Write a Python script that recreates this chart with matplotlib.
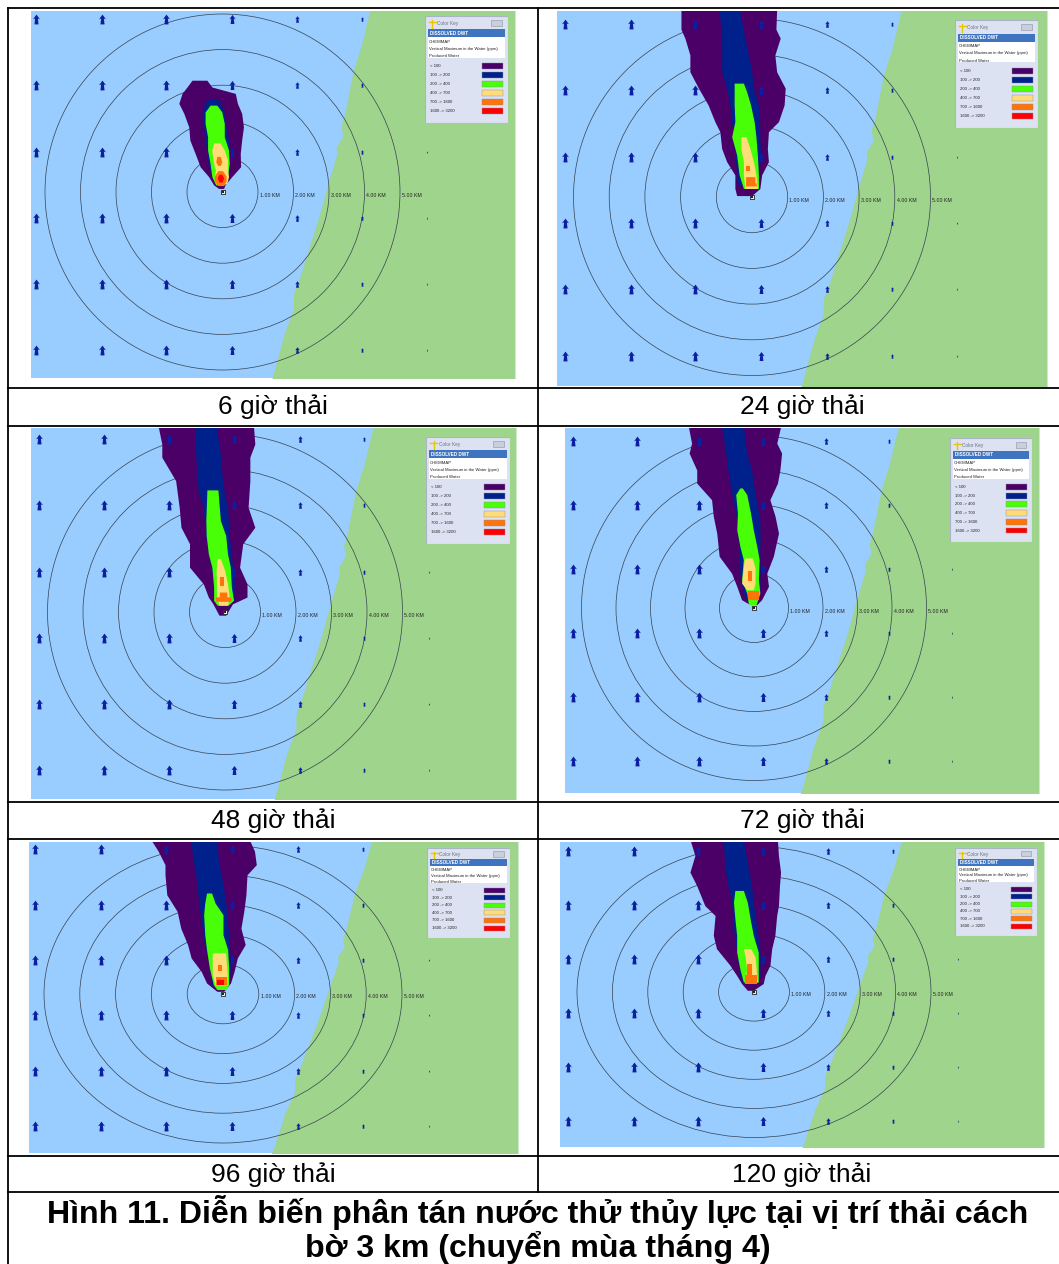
import matplotlib
matplotlib.use("Agg")
import matplotlib.pyplot as plt
from matplotlib.patches import Circle, Rectangle
from matplotlib.path import Path

plt.rcParams["font.family"] = ["Liberation Sans", "DejaVu Sans"]

W, H = 1059, 1264

# Colours of the concentration classes
class_labels = ["< 100", "100 -> 200", "200 -> 400", "400 -> 700", "700 -> 1600", "1600 -> 3200"]
class_colors = ["#4b0068", "#00208c", "#48ff08", "#ffdc78", "#ff7408", "#ff0000"]
key_lines = ["CHEMMAP", "Vertical Maximum in the Water (ppm)", "Produced Water"]

captions = ["6 giờ thải", "24 giờ thải", "48 giờ thải", "72 giờ thải", "96 giờ thải", "120 giờ thải"]
ring_km = [1, 2, 3, 4, 5]

# Coastline, km from the source (east, north)
coast_x = [4.25, 4.14, 3.92, 3.68, 3.44, 3.34, 3.39, 3.20, 3.22, 3.00, 2.71, 2.47, 2.18, 2.00, 2.00, 1.74, 1.40, 1.25]
coast_y = [5.45, 5.07, 4.16, 3.41, 2.19, 1.87, 1.58, 1.26, 1.07, 0.33, -0.70, -1.45, -2.38, -2.85, -3.27, -3.97, -5.22, -5.60]

# Current arrows, km from the source
arrow_cols = [-5.25, -3.40, -1.59, 0.26, 2.10, 3.92, 5.75]
arrow_rows = [4.85, 3.00, 1.13, -0.72, -2.58, -4.44]
arrow_size = [50, 50, 50, 42, 22, 10, 2]

# Plume rows: (north km, west edge km, east edge km), one list per class
purple_6 = [(3.14, -0.86, -0.44), (2.95, -1.00, -0.30), (2.77, -1.14, 0.36), (2.49, -1.23, 0.42), (2.21, -1.09, 0.54),
            (1.83, -0.95, 0.59), (1.46, -0.92, 0.54), (1.08, -0.77, 0.50), (0.71, -0.63, 0.51), (0.43, -0.39, 0.26),
            (0.20, -0.25, 0.07), (0.10, -0.11, 0.03)]
navy_6 = [(2.63, -0.39, -0.16), (2.49, -0.50, -0.05), (2.21, -0.58, 0.05), (1.83, -0.53, 0.10), (1.46, -0.49, 0.17),
          (1.08, -0.44, 0.20), (0.71, -0.39, 0.17), (0.43, -0.30, 0.14), (0.20, -0.20, 0.07)]
green_6 = [(2.44, -0.35, -0.16), (2.25, -0.49, -0.02), (1.93, -0.49, 0.05), (1.55, -0.42, 0.05), (1.18, -0.42, 0.17),
           (0.80, -0.35, 0.19), (0.43, -0.30, 0.14), (0.20, -0.19, 0.07)]
yellow_6 = [(1.38, -0.25, -0.07), (1.18, -0.30, 0.05), (0.90, -0.27, 0.14), (0.62, -0.20, 0.14), (0.43, -0.23, 0.17),
            (0.24, -0.20, 0.12)]
orange_6a = [(1.00, -0.16, -0.06), (0.85, -0.19, -0.02), (0.75, -0.14, -0.06)]
orange_6b = [(0.60, -0.13, 0.00), (0.45, -0.23, 0.10), (0.30, -0.23, 0.10), (0.18, -0.13, 0.02)]
red_6 = [(0.50, -0.10, -0.02), (0.40, -0.15, 0.03), (0.28, -0.10, -0.01)]

purple_24 = [(5.25, -1.99, 0.69), (4.70, -1.99, 0.67), (4.45, -1.88, 0.79), (3.98, -1.74, 0.64), (3.51, -1.74, 0.69),
             (3.05, -1.50, 0.93), (2.58, -1.23, 0.90), (2.11, -1.04, 0.74), (1.83, -0.90, 0.46), (1.36, -0.85, 0.43),
             (0.99, -0.71, 0.46), (0.62, -0.48, 0.27), (0.24, -0.48, 0.22), (0.04, -0.43, -0.01)]
navy_24 = [(5.25, -0.92, -0.34), (4.45, -0.85, -0.20), (3.98, -0.85, -0.10), (3.51, -0.85, -0.01), (3.05, -0.71, 0.04),
           (2.58, -0.62, 0.18), (2.11, -0.57, 0.21), (1.64, -0.52, 0.22), (1.18, -0.48, 0.24), (0.71, -0.43, 0.18),
           (0.34, -0.39, 0.18)]
green_24 = [(3.19, -0.50, -0.24), (2.95, -0.50, -0.15), (2.58, -0.50, -0.04), (2.11, -0.48, 0.06), (1.69, -0.57, 0.11),
            (1.18, -0.43, 0.15), (0.62, -0.36, 0.18), (0.24, -0.24, 0.18)]
yellow_24 = [(1.69, -0.31, -0.17), (1.36, -0.31, -0.06), (0.99, -0.24, 0.04), (0.62, -0.24, 0.11), (0.24, -0.20, 0.15)]
orange_24a = [(0.87, -0.18, -0.06), (0.73, -0.18, -0.06)]
orange_24b = [(0.57, -0.18, 0.08), (0.40, -0.18, 0.08), (0.39, -0.18, 0.12), (0.31, -0.18, 0.12)]

purple_48 = [(5.25, -1.89, 0.80), (4.72, -1.78, 0.84), (4.35, -1.78, 0.70), (3.69, -1.39, 0.70), (2.94, -1.29, 0.65),
             (2.38, -1.24, 0.84), (1.92, -1.00, 0.50), (1.26, -1.00, 0.41), (0.79, -0.61, 0.62), (0.42, -0.47, 0.62),
             (0.23, -0.34, 0.21), (-0.09, -0.17, 0.02)]
navy_48 = [(5.25, -0.83, -0.25), (4.44, -0.83, -0.13), (3.79, -0.78, -0.08), (3.41, -0.76, -0.03), (2.94, -0.61, 0.07),
           (2.20, -0.56, 0.12), (1.64, -0.47, 0.17), (0.89, -0.32, 0.26), (0.33, -0.32, 0.26)]
green_48 = [(3.43, -0.51, -0.20), (2.57, -0.54, -0.13), (2.15, -0.53, 0.02), (1.64, -0.47, 0.07), (1.26, -0.37, 0.15),
            (0.70, -0.32, 0.18), (0.33, -0.32, 0.24), (0.19, -0.22, 0.09)]
yellow_48 = [(1.50, -0.22, -0.13), (1.17, -0.25, -0.01), (0.79, -0.24, 0.07), (0.42, -0.24, 0.12), (0.19, -0.17, 0.07)]
orange_48a = [(0.98, -0.13, -0.03), (0.73, -0.13, -0.03)]
orange_48b = [(0.56, -0.16, 0.05), (0.43, -0.16, 0.05), (0.42, -0.27, 0.17), (0.30, -0.27, 0.17)]

purple_72 = [(5.25, -1.90, 0.77), (4.78, -1.81, 0.66), (4.49, -1.88, 0.80), (4.00, -1.66, 0.75), (3.62, -1.66, 0.68),
             (3.14, -1.23, 0.46), (2.66, -1.18, 0.61), (2.17, -1.08, 0.71), (1.50, -1.01, 0.56), (1.01, -0.65, 0.37),
             (0.63, -0.50, 0.42), (0.24, -0.36, 0.22), (0.10, -0.12, 0.08)]
navy_72 = [(5.25, -0.94, -0.31), (4.49, -0.82, -0.21), (4.00, -0.76, -0.07), (3.33, -0.65, 0.03), (2.56, -0.50, 0.17),
           (1.59, -0.43, 0.17), (1.01, -0.41, 0.17), (0.43, -0.31, 0.17), (0.19, -0.21, 0.08)]
green_72 = [(3.48, -0.41, -0.34), (3.29, -0.53, -0.21), (2.75, -0.48, -0.10), (2.27, -0.50, -0.02), (1.79, -0.41, 0.08),
            (1.40, -0.31, 0.15), (0.82, -0.36, 0.13), (0.43, -0.21, 0.17), (0.10, -0.16, 0.06)]
yellow_72 = [(1.45, -0.28, -0.05), (1.16, -0.31, 0.03), (0.72, -0.36, 0.03), (0.53, -0.21, -0.02)]
orange_72a = [(1.06, -0.18, -0.05), (0.79, -0.18, -0.05)]
orange_72b = [(0.50, -0.18, 0.15), (0.24, -0.18, 0.15)]

purple_96 = [(5.25, -2.05, 0.71), (4.79, -1.81, 0.88), (4.34, -1.62, 0.93), (4.00, -1.62, 0.67), (3.33, -1.57, 0.64),
             (2.77, -1.28, 0.58), (2.21, -1.18, 0.50), (1.66, -0.99, 0.62), (1.21, -0.89, 0.40), (0.76, -0.61, 0.31),
             (0.37, -0.46, 0.21), (0.09, -0.17, 0.02)]
navy_96 = [(5.25, -0.91, -0.17), (4.45, -0.83, -0.13), (3.89, -0.75, -0.03), (3.11, -0.68, 0.07), (2.44, -0.61, 0.13),
           (1.66, -0.51, 0.17), (0.87, -0.37, 0.21), (0.31, -0.32, 0.16)]
green_96 = [(3.39, -0.46, -0.32), (3.05, -0.51, -0.22), (2.66, -0.54, 0.00), (1.99, -0.51, 0.00), (1.49, -0.46, 0.13),
            (0.87, -0.38, 0.16), (0.31, -0.27, 0.16), (0.15, -0.17, 0.07)]
yellow_96 = [(1.38, -0.30, 0.07), (0.65, -0.30, 0.12), (0.31, -0.22, 0.10)]
orange_96a = [(0.98, -0.15, -0.03), (0.76, -0.15, -0.03)]
orange_96b = [(0.56, -0.19, 0.10), (0.31, -0.19, 0.10)]
red_96 = [(0.48, -0.17, 0.02), (0.31, -0.17, 0.02)]

purple_120 = [(5.25, -1.81, 0.66), (4.69, -1.67, 0.69), (4.12, -1.81, 0.75), (3.66, -1.62, 0.72), (2.97, -1.39, 0.69),
              (2.63, -1.10, 0.64), (1.95, -1.15, 0.59), (1.49, -1.06, 0.50), (0.92, -0.68, 0.45), (0.57, -0.49, 0.31),
              (0.29, -0.35, 0.26), (0.06, -0.19, -0.02)]
navy_120 = [(5.25, -0.87, -0.30), (4.23, -0.82, -0.16), (3.66, -0.73, -0.07), (3.09, -0.63, -0.02), (2.17, -0.58, 0.08),
            (1.37, -0.49, 0.17), (0.57, -0.40, 0.17), (0.29, -0.30, 0.12)]
green_120 = [(3.49, -0.54, -0.30), (3.09, -0.58, -0.19), (2.52, -0.54, -0.11), (1.95, -0.49, -0.02), (1.37, -0.49, 0.12),
             (0.80, -0.40, 0.12), (0.34, -0.30, 0.12)]
yellow_120 = [(1.49, -0.30, -0.09), (1.20, -0.25, 0.03), (0.80, -0.21, 0.06), (0.34, -0.25, 0.09)]
orange_120a = [(0.97, -0.19, -0.07), (0.57, -0.19, -0.07)]
orange_120b = [(0.57, -0.25, 0.09), (0.29, -0.25, 0.09)]

# class index, rows
plumes = [
    [(0, purple_6), (1, navy_6), (2, green_6), (3, yellow_6), (4, orange_6a), (4, orange_6b), (5, red_6)],
    [(0, purple_24), (1, navy_24), (2, green_24), (3, yellow_24), (4, orange_24a), (4, orange_24b)],
    [(0, purple_48), (1, navy_48), (2, green_48), (3, yellow_48), (4, orange_48a), (4, orange_48b)],
    [(0, purple_72), (1, navy_72), (2, green_72), (3, yellow_72), (4, orange_72a), (4, orange_72b)],
    [(0, purple_96), (1, navy_96), (2, green_96), (3, yellow_96), (4, orange_96a), (4, orange_96b), (5, red_96)],
    [(0, purple_120), (1, navy_120), (2, green_120), (3, yellow_120), (4, orange_120a), (4, orange_120b)],
]

# Panel frames in pixels: x0, x1, y0, y1, source x, source y, px per km x, px per km y
frames = [
    (31, 515, 11, 378, 222.5, 192, 35.5, 35.6),
    (557, 1047, 11, 386, 752, 197, 35.7, 35.7),
    (31, 516, 428, 799, 225, 612, 35.5, 35.6),
    (565, 1039, 428, 793, 754, 608, 34.5, 34.5),
    (29, 518, 842, 1153, 223, 994, 35.8, 29.8),
    (560, 1044, 842, 1147, 754, 992, 35.4, 29.1),
]
# Colour key boxes in pixels: x0, x1, y0, y1
key_boxes = [
    (425, 508, 16, 123),
    (955, 1038, 20, 128),
    (426, 510, 437, 544),
    (950, 1032, 438, 542),
    (427, 510, 848, 938),
    (955, 1037, 848, 936),
]

arrow_marker = Path([(0, 1), (0.7, 0.05), (0.28, 0.2), (0.42, -1), (-0.42, -1), (-0.28, 0.2), (-0.7, 0.05), (0, 1)], closed=True)

fig = plt.figure(figsize=(W / 100, H / 100), dpi=100, facecolor="white")


def px_axes(x0, x1, y0, y1):
    return fig.add_axes([x0 / W, 1 - y1 / H, (x1 - x0) / W, (y1 - y0) / H])


# Table grid and text
table = fig.add_axes([0, 0, 1, 1])
table.set_xlim(0, W)
table.set_ylim(H, 0)
table.axis("off")
for y in [8, 388, 426, 802, 838.5, 1156, 1192]:
    table.plot([7, 1059], [y, y], color="black", lw=1.3, solid_capstyle="butt")
table.plot([8, 8], [8, H], color="black", lw=1.3)
table.plot([537.5, 537.5], [8, 1192], color="black", lw=1.3)
caption_pos = [(273, 407), (802, 407), (273, 821), (802, 821), (273, 1175), (802, 1175)]
for (x, y), text in zip(caption_pos, captions):
    table.text(x, y, text, fontsize=19, ha="center", va="center")
table.text(537.5, 1213, "Hình 11. Diễn biến phân tán nước thử thủy lực tại vị trí thải cách",
           fontsize=23.1, fontweight="bold", ha="center", va="center")
table.text(537.5, 1247.5, "bờ 3 km (chuyển mùa tháng 4)",
           fontsize=23.1, fontweight="bold", ha="center", va="center")

for frame, plume, box in zip(frames, plumes, key_boxes):
    x0, x1, y0, y1, sx, sy, kx, ky = frame
    ax = px_axes(x0, x1, y0, y1)
    ax.set_xlim((x0 - sx) / kx, (x1 - sx) / kx)
    ax.set_ylim((sy - y1) / ky, (sy - y0) / ky)
    ax.set_facecolor("#99ccff")
    ax.set_xticks([])
    ax.set_yticks([])
    for s in ax.spines.values():
        s.set_visible(False)

    # land east of the coast
    ax.fill_betweenx(coast_y, coast_x, (x1 - sx) / kx, color="#9fd48c", lw=0, zorder=1)

    # range rings and their labels
    for r in ring_km:
        ax.add_patch(Circle((0, 0), r, fill=False, ec="#35424f", lw=0.5, zorder=2))
        ax.text(r + 0.05, -0.1, "%.2f KM" % r, fontsize=3.8, color="#222222", ha="left", va="center", zorder=2)

    # plume, lowest class first
    for cls, rows in plume:
        ys = [row[0] for row in rows]
        west = [row[1] for row in rows]
        east = [row[2] for row in rows]
        ax.fill_betweenx(ys, west, east, color=class_colors[cls], lw=0, zorder=3 + cls * 0.1)

    # current arrows
    for col, size in zip(arrow_cols, arrow_size):
        for row in arrow_rows:
            ax.scatter(col, row, s=size, marker=arrow_marker, color="#0b1fa0", lw=0, zorder=4)

    # source
    ax.scatter(0, 0, s=12, marker="s", color="#f4f0d8", edgecolor="#222222", lw=0.6, zorder=5)
    ax.scatter(0, 0, s=2, marker="s", color="#222222", lw=0, zorder=6)

    # colour key window
    kax = px_axes(*box)
    kax.set_xlim(0, 1)
    kax.set_ylim(1, 0)
    kax.axis("off")
    kax.add_patch(Rectangle((0, 0), 1, 1, fc="#dde2f2", ec="#aab4c4", lw=0.8))
    kax.add_patch(Rectangle((0.04, 0.2), 0.92, 0.19, fc="white", lw=0))
    kax.add_patch(Rectangle((0.04, 0.125), 0.92, 0.075, fc="#3f74c0", lw=0))
    kax.plot([0.09, 0.09], [0.04, 0.11], color="#e6c800", lw=1)
    kax.plot([0.05, 0.13], [0.06, 0.06], color="#e6c800", lw=1)
    kax.text(0.15, 0.07, "Color Key", fontsize=3.4, color="#667080", va="center")
    kax.add_patch(Rectangle((0.8, 0.035), 0.13, 0.06, fc="#c8d0dc", ec="#8a94a4", lw=0.4))
    kax.text(0.06, 0.162, "DISSOLVED DWT", fontsize=3.3, color="white", fontweight="bold", va="center")
    for y, line in zip([0.245, 0.31, 0.375], key_lines):
        kax.text(0.05, y, line, fontsize=3.05, color="#222222", va="center")
    for y, label, color in zip([0.47, 0.554, 0.638, 0.72, 0.805, 0.89], class_labels, class_colors):
        kax.text(0.06, y, label, fontsize=3.1, color="#222222", va="center")
        kax.add_patch(Rectangle((0.685, y - 0.028), 0.255, 0.056, fc=color, ec="#8890a0", lw=0.3))

fig.savefig("out.png", dpi=100)
